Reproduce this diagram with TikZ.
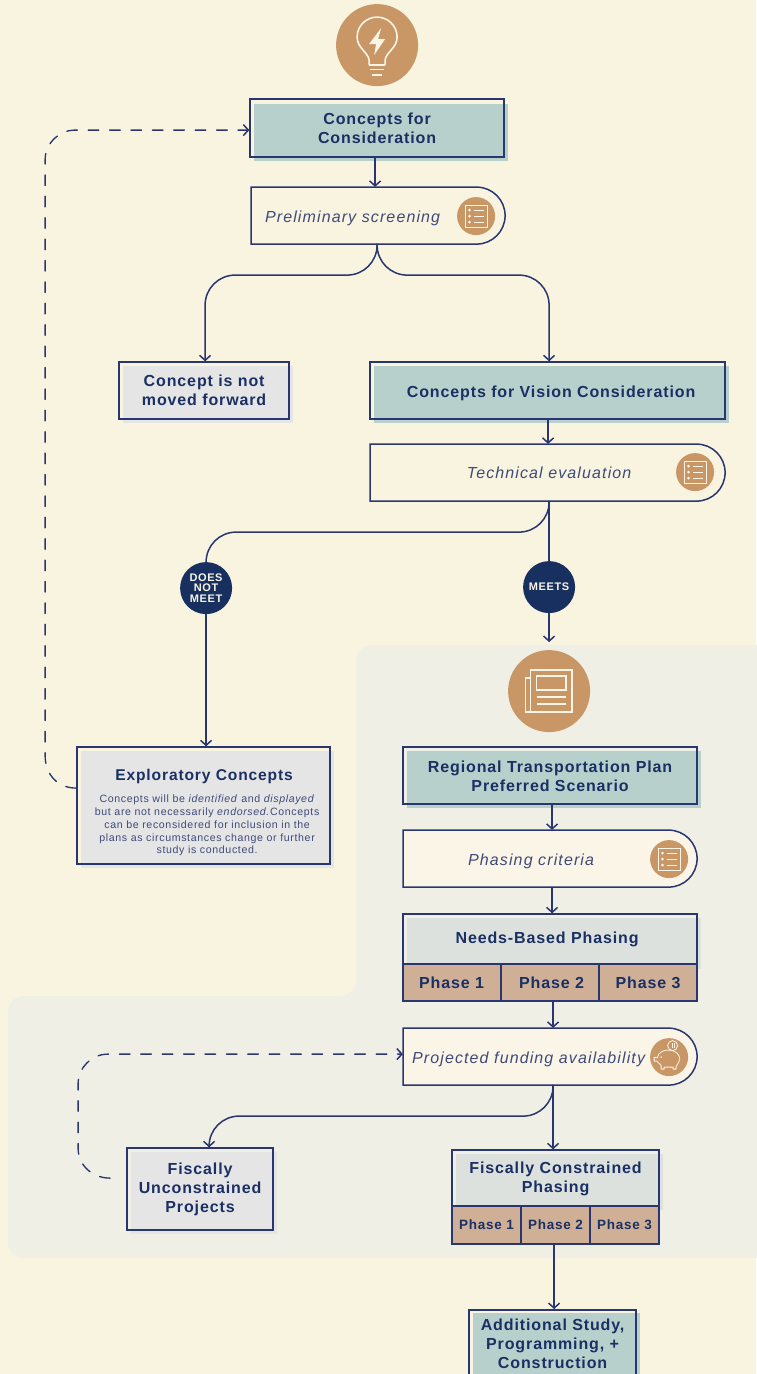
\documentclass[tikz,border=0pt]{standalone}
\usepackage{fontspec}
\setmainfont{Liberation Sans}
\newfontfamily\hdfont[LetterSpace=5.5,BoldFont={Liberation Sans Bold}]{Liberation Sans}
\newfontfamily\itfont[LetterSpace=7]{Liberation Sans}
\newfontfamily\smfont[LetterSpace=6]{Liberation Sans}
\usetikzlibrary{arrows.meta}
\definecolor{bgc}{HTML}{F9F4E0}
\definecolor{panelc}{HTML}{F0EFE6}
\definecolor{navy}{HTML}{1A2F63}
\definecolor{linec}{HTML}{2A3670}
\definecolor{italc}{HTML}{3F4A78}
\definecolor{tealc}{HTML}{B8D0CC}
\definecolor{greyc}{HTML}{E5E5E6}
\definecolor{paleg}{HTML}{DCE1DD}
\definecolor{tanc}{HTML}{C99665}
\definecolor{phasec}{HTML}{CFB097}
\definecolor{creamc}{HTML}{FBF5E8}
\definecolor{circc}{HTML}{18305F}
\tikzset{
  x=1pt,y=-1pt,
  conn/.style={draw=linec,line width=1.5pt,line cap=round},
  arr/.style={conn,-{Straight Barb[length=5pt,width=11pt,line width=1.5pt]}},
  dash conn/.style={arr,line width=1.35pt,dash pattern=on 10.7pt off 10.7pt},
  outlinebox/.style={draw=linec,line width=1.5pt,fill=none,inner sep=0pt,align=center,text=navy,font=\hdfont\bfseries\fontsize{16}{19.2}\selectfont},
  pillbox/.style={draw=linec,line width=1.5pt},
  shapebox/.style={inner sep=0pt},
  boxtext/.style={inner sep=0pt,align=center,text=navy,font=\hdfont\bfseries\fontsize{16}{19.2}\selectfont},
  itlabel/.style={inner sep=0pt,anchor=base,text=italc,font=\itfont\itshape\fontsize{16}{19}\selectfont},
  phasecell/.style={draw=linec,line width=1.5pt,fill=phasec,inner sep=0pt,text=navy,font=\hdfont\bfseries\fontsize{16}{19}\selectfont},
  smallcell/.style={phasecell,font=\hdfont\bfseries\fontsize{13.5}{16}\selectfont},
  bigicon/.style={circle,fill=tanc,inner sep=0pt,minimum size=82pt},
  smallicon/.style={circle,fill=tanc,inner sep=0pt,minimum size=38pt},
  decision/.style={circle,fill=circc,inner sep=0pt,minimum size=52pt,text=creamc,align=center,font=\hdfont\bfseries\fontsize{11}{10.7}\selectfont},
  iconline/.style={draw=creamc,line width=1.1pt},
  iconbig/.style={draw=creamc,line width=1.6pt},
}
\newcommand{\docicon}[2]{%
  \begin{scope}[shift={(#1,#2)}]
    \draw[iconline] (-11,-11) rectangle (11,11);
    \foreach \yy in {-6,0,6}{
      \fill[creamc] (-6.5,\yy) circle[radius=1.5];
      \draw[iconline] (-2,\yy) -- (8,\yy);
    }
  \end{scope}
}
\begin{document}
\begin{tikzpicture}
\useasboundingbox (0,0) rectangle (756,1374);
\fill[bgc] (0,0) rectangle (756,1374);
\begin{scope}[shift={(0.1,0.1)}]
% panel
\fill[panelc,rounded corners=16pt] (800,645) -- (356,645) -- (356,996) -- (8,996) -- (8,1258) -- (800,1258) -- cycle;

% shadows / fills
\fill[tealc] (254,104) rectangle (508,161);
\fill[greyc] (123,366) rectangle (293,423);
\fill[tealc] (374,366) rectangle (729,423);
\fill[greyc] (81,751) rectangle (334,868);
\fill[tealc] (407,751) rectangle (701,808);
\fill[paleg] (407,918) rectangle (701,969);
\fill[greyc] (131,1152) rectangle (277,1234);
\fill[paleg] (456,1154) rectangle (663,1210);
\fill[tealc] (473,1313) rectangle (640,1380);

% top
\node[bigicon] (bulb) at (377,45) {};
\begin{scope}[shift={(377,45)}]
  \draw[iconbig,line join=round] (-8,20) -- (-8,15) .. controls (-9,7) and (-20,3) .. (-20,-8)
     .. controls (-20,-20) and (-10,-28) .. (0,-28) .. controls (10,-28) and (20,-20) .. (20,-8)
     .. controls (20,3) and (9,7) .. (8,15) -- (8,20);
  \draw[iconbig] (-8,20) -- (8,20) (-7,24.5) -- (7,24.5);
  \draw[creamc,line width=2pt] (-5,30) -- (5,30);
  \fill[creamc] (4,-17) -- (-8,-1) -- (-1,-1) -- (-3,10) -- (8,-6) -- (1,-6) -- cycle;
\end{scope}

\node[outlinebox,minimum width=254pt,minimum height=58pt] (c4c) at (377,128) {Concepts for\\Consideration};

% preliminary
\node[shapebox,minimum width=254pt,minimum height=57pt] (prelim) at (378,215.5) {};
\draw[pillbox] (251,187) [rounded corners=28.5pt] -- (505,187) -- (505,244) [sharp corners] -- (251,244) -- cycle;
\node[itlabel] (prelimt) at (352.5,222) {Preliminary screening};
\node[smallicon] (prelimi) at (476,216) {};
\docicon{476}{216}

\node[outlinebox,minimum width=170pt,minimum height=57pt] (notfwd) at (204,390.5) {Concept is not\\moved forward};
\node[outlinebox,minimum width=355pt,minimum height=57pt] (vision) at (547.5,390.5) {};
\node[boxtext] (visiont) at (551,393) {Concepts for Vision Consideration};

% technical
\node[shapebox,minimum width=355pt,minimum height=57pt] (tech) at (547.5,472.5) {};
\draw[pillbox] (370,444) [rounded corners=28.5pt] -- (725,444) -- (725,501) [sharp corners] -- (370,501) -- cycle;
\node[itlabel] (techt) at (549,478) {Technical evaluation};
\node[smallicon] (techi) at (695,472) {};
\docicon{695}{472}

\node[decision] (dnm) at (206,588) {DOES\\NOT\\MEET};
\node[decision] (meets) at (549,587) {MEETS};

% newspaper
\node[bigicon] (news) at (549,691) {};
\begin{scope}[shift={(549,691)}]
  \draw[iconbig] (-18.5,-21) rectangle (23,21);
  \draw[iconbig] (-18.5,-13) -- (-23.5,-13) -- (-23.5,21) -- (-18.5,21);
  \draw[iconbig] (-12.5,-15) rectangle (17,-1);
  \draw[iconbig] (-12.5,6) -- (17,6) (-12.5,13) -- (17,13);
\end{scope}

\node[outlinebox,minimum width=253pt,minimum height=117pt] (expl) at (203.5,805.5) {};
\node[inner sep=0pt,text=navy,font=\hdfont\bfseries\fontsize{15.6}{19}\selectfont] (explt) at (204,776.5) {Exploratory Concepts};
\node[inner sep=0pt,align=center,text=italc,font=\smfont\fontsize{10.6}{12.7}\selectfont] (expld) at (207,825.5) {Concepts will be \textit{identified} and \textit{displayed}\\but are not necessarily \textit{endorsed.}Concepts\\can be reconsidered for inclusion in the\\plans as circumstances change or further\\study is conducted.};

\node[outlinebox,minimum width=294pt,minimum height=57pt] (rtp) at (550,775.5) {};
\node[boxtext] (rtpt) at (550,776) {Regional Transportation Plan\\Preferred Scenario};

% phasing
\node[shapebox,minimum width=294pt,minimum height=57pt] (phasing) at (550,858.5) {};
\draw[pillbox,fill=creamc] (403,830) [rounded corners=28.5pt] -- (697,830) -- (697,887) [sharp corners] -- (403,887) -- cycle;
\node[itlabel] (phasingt) at (531,865) {Phasing criteria};
\node[smallicon] (phasingi) at (669,859) {};
\docicon{669}{859}

% needs
\node[outlinebox,minimum width=294pt,minimum height=50pt] (needs) at (550,939) {};
\node[boxtext] (needst) at (547,939.5) {Needs-Based Phasing};
\node[phasecell,minimum width=98pt,minimum height=37pt] (p1) at (452,982.5) {};
\node[phasecell,minimum width=98pt,minimum height=37pt] (p2) at (550,982.5) {};
\node[phasecell,minimum width=98pt,minimum height=37pt] (p3) at (648,982.5) {};
\node[boxtext] (p1t) at (451.5,982.5) {Phase 1};
\node[boxtext] (p2t) at (551.5,982.5) {Phase 2};
\node[boxtext] (p3t) at (648,982.5) {Phase 3};

% projected
\node[shapebox,minimum width=294pt,minimum height=57pt] (proj) at (550,1056.5) {};
\draw[pillbox,fill=creamc] (403,1028) [rounded corners=28.5pt] -- (697,1028) -- (697,1085) [sharp corners] -- (403,1085) -- cycle;
\node[itlabel] (projt) at (528.5,1063) {Projected funding availability};
\node[smallicon] (proji) at (669,1057) {};
\begin{scope}[shift={(669,1057)}]
  \draw[draw=creamc,line width=.8pt,line join=round] (-12,1) .. controls (-11,-5) and (-5,-7) .. (-2,-7)
    .. controls (3,-7) and (8,-6) .. (10,-1) .. controls (11,1) and (11,3) .. (10,4)
    .. controls (9,7) and (8,8) .. (7,9) -- (7,12) -- (4,12) -- (4,10) -- (-5,10) -- (-5,12) -- (-8,12) -- (-8,8)
    .. controls (-10,7) and (-11,5) .. (-12,4) -- (-15,4) -- (-15,0) -- cycle;
  \draw[draw=creamc,line width=.8pt] (3.5,-11.5) circle[radius=5];
  \draw[draw=creamc,line width=.8pt] (3,-14) -- (3,-9) (5,-14) -- (5,-9);
  \fill[creamc] (-8,0) circle[radius=.9];
\end{scope}

\node[outlinebox,minimum width=146pt,minimum height=82pt] (uncon) at (200,1189) {Fiscally\\Unconstrained\\Projects};
\node[outlinebox,minimum width=207pt,minimum height=56pt] (fcp) at (555.5,1178) {};
\node[boxtext] (fcpt) at (555.5,1178.5) {Fiscally Constrained\\Phasing};
\node[smallcell,minimum width=69pt,minimum height=38pt] (f1) at (486.5,1225) {Phase 1};
\node[smallcell,minimum width=69pt,minimum height=38pt] (f2) at (555.5,1225) {Phase 2};
\node[smallcell,minimum width=69pt,minimum height=38pt] (f3) at (624.5,1225) {Phase 3};

\node[outlinebox,minimum width=167pt,minimum height=68pt,anchor=north] (addl) at (552.5,1309) {Additional Study,\\Programming, +\\Construction};

% connectors
\coordinate (ufree) at (110,1178);
\draw[arr] ([xshift=-2pt]c4c.south) -- ([xshift=-3pt]prelim.north);
\draw[arr] (prelim.south) ++(-1,0) [rounded corners=30pt] |- (205,275) -- (notfwd.north -| 205,362);
\draw[arr] (prelim.south) ++(-1,0) [rounded corners=30pt] |- (549,275) -- (vision.north -| 549,362);
\draw[arr] ([xshift=0.5pt]vision.south) -- ([xshift=0.5pt]tech.north);
\draw[conn] ([xshift=1.5pt]tech.south) [rounded corners=30pt] |- (dnm.north |- 0,532) -- (dnm.north);
\draw[conn] ([xshift=1.5pt]tech.south) -- (meets.north);
\draw[arr] (dnm.south) -- (dnm.south |- expl.north);
\draw[arr] (meets.south) -- (549,642);
\draw[arr] ([xshift=2pt]rtp.south) -- ([xshift=2pt]phasing.north);
\draw[arr] ([xshift=2pt]phasing.south) -- ([xshift=2pt]needs.north);
\draw[arr] ([xshift=3pt]p2.south) -- ([xshift=3pt]proj.north);
\draw[arr] ([xshift=3pt]proj.south) -- (fcp.north -| 553,1150);
\draw[arr] ([xshift=3pt]proj.south) [rounded corners=30pt] |- (209,1116) -- (uncon.north -| 209,1148);
\draw[arr] (f2.south -| 554,1244) -- (addl.north -| 554,1309);
\draw[dash conn] (expl.west |- 0,788) .. controls (58,788) and (45,775) .. (45,755) [rounded corners=30pt] |- (c4c.west |- 0,130);
\draw[dash conn] (ufree) .. controls (92,1178) and (78,1165) .. (78,1148) [rounded corners=30pt] |- (proj.west |- 0,1054);
\end{scope}
\end{tikzpicture}
\end{document}
